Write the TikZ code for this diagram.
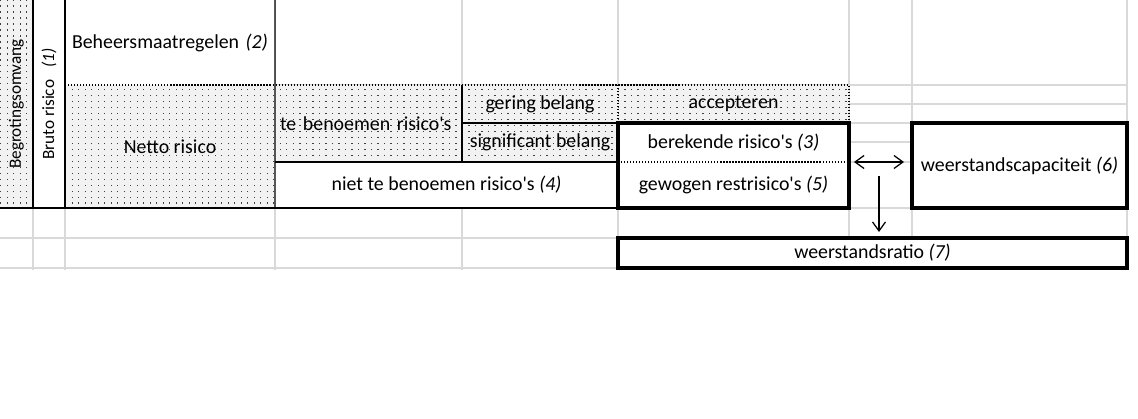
\documentclass[tikz,border=0pt]{standalone}
\usepackage{fontspec}
\setmainfont{Carlito}
\usetikzlibrary{arrows.meta,patterns}

\definecolor{lichtgrijs}{RGB}{242,242,242}
\definecolor{rastergrijs}{RGB}{217,217,217}

\pgfdeclarepatternformonly{stippen}{\pgfqpoint{-0.5pt}{-0.5pt}}{\pgfqpoint{4.5pt}{4.5pt}}{\pgfqpoint{3.7pt}{3.4pt}}{%
  \pgfpathrectangle{\pgfqpoint{0pt}{0pt}}{\pgfqpoint{0.8pt}{0.8pt}}%
  \pgfusepath{fill}}

\begin{document}
\begin{tikzpicture}[x=0.2mm, y=-0.2mm,
  every node/.style={font=\fontsize{11.3}{13}\selectfont},
  cel/.style 2 args={anchor=north west, inner sep=0pt, outer sep=0pt,
    minimum width=#1*0.2mm, minimum height=#2*0.2mm},
  stip/.style={fill=lichtgrijs, postaction={pattern=stippen, pattern color=black!75}},
  wit/.style={fill=white},
  staand/.style={rotate=90, font=\fontsize{9.8}{12}\selectfont},
  raster/.style={draw=rastergrijs, line width=0.5mm},
  dun/.style={line width=0.25mm},
  stippel/.style={line width=0.25mm, densely dotted},
  dik/.style={draw, line width=0.8mm},
  >={Straight Barb[length=1.8mm,width=2.6mm]}]

\fill[white] (0,0) rectangle (1138,419);
\useasboundingbox (0,0) rectangle (1138,419);

\foreach \x in {33,65,275,462,618,849,912,1127}
  \draw[raster] (\x,0) -- (\x,270);
\foreach \y in {85,104,123,142,162,208,238,268}
  \draw[raster] (0,\y) -- (1127,\y);

\node[cel={33}{208}, stip] (omvang) at (0,0) {};
\node[cel={32}{208}, wit] (bruto) at (33,0) {};
\node[cel={210}{85}, wit, align=left, inner xsep=1.4mm, text width=39.2mm] (beheers) at (65,0)
  {Beheersmaatregelen \textit{(2)}};
\node[cel={210}{123}, stip] (netto) at (65,85) {Netto risico};
\node[cel={187}{77}, stip, align=left, inner xsep=1mm, text width=35.4mm] (benoemd) at (275,85)
  {te benoemen risico\textquotesingle s};
\node[cel={156}{38}, stip] (gering) at (462,85) {gering belang};
\node[cel={156}{39}, stip] (significant) at (462,123) {significant belang};
\node[cel={231}{38}, stip] (accepteren) at (618,85) {accepteren};
\node[cel={231}{39}, wit] (berekend) at (618,123) {berekende risico\textquotesingle s \textit{(3)}};
\node[cel={231}{46}, wit] (gewogen) at (618,162) {gewogen restrisico\textquotesingle s \textit{(5)}};
\node[cel={343}{46}, wit] (onbenoemd) at (275,162) {niet te benoemen risico\textquotesingle s \textit{(4)}};

\node[staand] (omvangtekst) at (omvang.center) {Begrotingsomvang};
\node[staand] (brutotekst) at (bruto.center) {Bruto risico\hspace{7pt}\textit{(1)}};

\draw[dun] (omvang.north east) -- (omvang.south east);
\draw[dun] (bruto.north east) -- (bruto.south east);
\draw[dun] (beheers.north east) -- (netto.south east);
\draw[dun] (benoemd.north east) -- (benoemd.south east);
\draw[dun] (significant.north west) -- (significant.north east);
\draw[dun] (onbenoemd.north west) -- (onbenoemd.north east);
\draw[dun] (omvang.south west) -- (onbenoemd.south east);
\draw[stippel] (netto.north west) -- (accepteren.north east) -- (accepteren.south east);
\draw[stippel] (accepteren.north west) -- (accepteren.south west);
\draw[stippel] (gewogen.north west) -- (gewogen.north east);

\draw[dik] (berekend.north west) rectangle (gewogen.south east);
\node[cel={215}{85}, wit, dik] (capaciteit) at (912,123) {weerstandscapaciteit \textit{(6)}};
\node[cel={509}{30}, wit, dik] (ratio) at (618,238) {weerstandsratio \textit{(7)}};

\coordinate (kruis) at (879,176);
\draw[dun, <->, shorten <=5*0.2mm, shorten >=8*0.2mm] (gewogen.north east) -- (gewogen.north east -| capaciteit.west);
\draw[dun, ->, shorten >=6*0.2mm] (kruis) -- (kruis |- ratio.north);
\end{tikzpicture}
\end{document}
